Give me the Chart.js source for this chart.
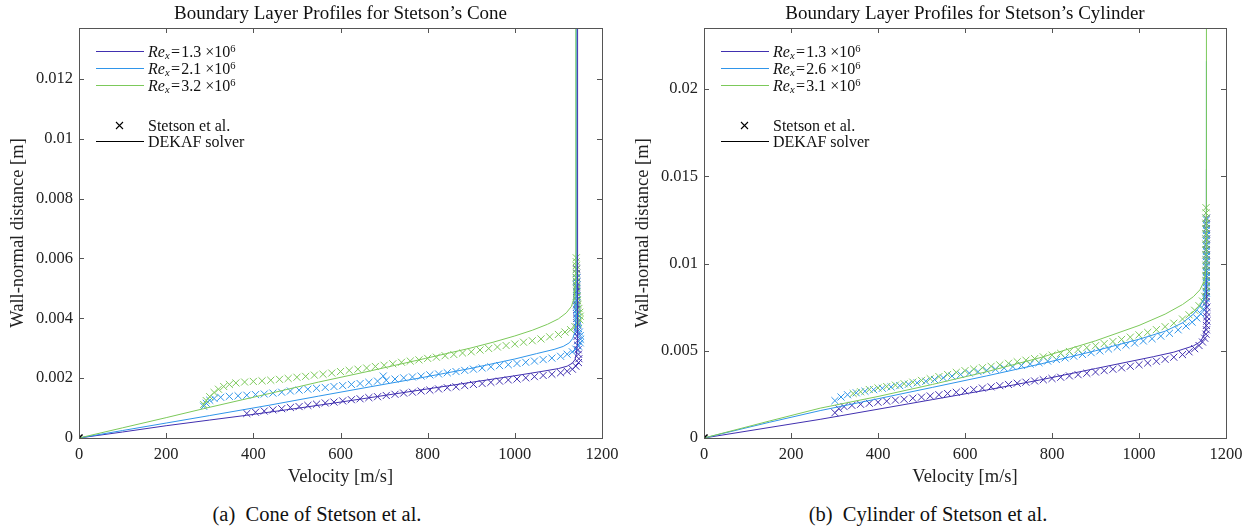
<!DOCTYPE html>
<html>
<head>
<meta charset="utf-8">
<title>Boundary Layer Profiles for Stetson's Cone and Cylinder</title>
<script src="https://cdn.jsdelivr.net/npm/chart.js@4.4.1/dist/chart.umd.min.js"></script>
<style>
  body { margin: 0; background: #fff; font-family: "Liberation Serif", serif; color: #111; }
  #page { position: relative; width: 1251px; height: 529px; overflow: hidden; }
  .panel { position: absolute; top: 0; height: 490px; }
  .panel canvas { position: absolute; left: 0; top: 0; }
  .title { position: absolute; top: 2px; line-height: 22px; font-size: 19px; white-space: nowrap; transform: translateX(-50%); }
  .leg { position: absolute; height: 17px; line-height: 17px; font-size: 16px; white-space: nowrap; }
  .leg .ln { position: absolute; left: 0; top: 8px; width: 48px; height: 0; border-top: 1px solid #000; }
  .leg .mk { position: absolute; left: 19px; top: 4px; }
  .leg .tx { position: absolute; left: 52px; top: 0; }
  .leg sub { font-size: 0.66em; vertical-align: -0.22em; line-height: 0; }
  .leg sup { font-size: 0.66em; vertical-align: 0.5em; line-height: 0; }
  .caption { position: absolute; top: 502px; line-height: 24px; font-size: 20.5px; white-space: nowrap; transform: translateX(-50%); }
</style>
</head>
<body>
<div id="page">
  <div class="panel" id="panelA" style="left:0;width:625px"><canvas id="coneChart" width="625" height="490"></canvas></div>
  <div class="panel" id="panelB" style="left:625px;width:626px"><canvas id="cylChart" width="626" height="490"></canvas></div>
  <div class="caption" style="left:317px">(a)&nbsp; Cone of Stetson et al.</div>
  <div class="caption" style="left:928px">(b)&nbsp; Cylinder of Stetson et al.</div>
</div>
<script>
// axis ticks
var xTicks = [0, 200, 400, 600, 800, 1000, 1200];
var coneYTicks = [0, 0.002, 0.004, 0.006, 0.008, 0.01, 0.012];
var cylYTicks = [0, 0.005, 0.01, 0.015, 0.02];

var coneRe = ['1.3', '2.1', '3.2'];
var cylRe = ['1.3', '2.6', '3.1'];
var colors = ['#4130b0', '#2f95ea', '#7cc95a'];

// Stetson et al. measurements, cone  [u (m/s), y (m)]
var coneExp1 = [[385,0.00082],[405,0.00086],[425,0.0009],[445,0.00094],[465,0.00098],[485,0.00102],[505,0.00105],[525,0.00109],
  [545,0.00113],[565,0.00117],[585,0.0012],[605,0.00124],[625,0.00128],[645,0.00131],[665,0.00135],[685,0.00138],[705,0.00142],
  [725,0.00146],[745,0.0015],[765,0.00153],[785,0.00157],[805,0.0016],[825,0.00164],[845,0.00168],[865,0.00171],[885,0.00175],
  [905,0.00179],[925,0.00182],[945,0.00186],[965,0.0019],[985,0.00194],[1005,0.00197],[1025,0.00201],[1045,0.00205],[1065,0.00209],
  [1085,0.00213],[1105,0.00218],[1120,0.00223],[1132,0.0023],[1140,0.0024],[1146,0.00252],[1147,0.00265],[1146,0.0028],[1145,0.00295],
  [1144,0.0031],[1144,0.00325],[1143,0.0034],[1143,0.00355],[1143,0.0037],[1142,0.00385],[1142,0.004],[1142,0.00415],[1142,0.0043],
  [1142,0.00445],[1142,0.0046],[1142,0.00475],[1142,0.0049],[1142,0.00505],[1142,0.0052],[1142,0.00535],[1142,0.0055],[1142,0.00565]];
var coneExp2 = [[286,0.00106],[292,0.00116],[300,0.00126],[310,0.00132],[325,0.00136],[345,0.00139],[365,0.00141],[385,0.00143],
  [405,0.00145],[425,0.00147],[445,0.0015],[465,0.00153],[485,0.00157],[505,0.0016],[525,0.00163],[545,0.00166],[565,0.00169],
  [585,0.00172],[605,0.00175],[625,0.00179],[645,0.00182],[665,0.00186],[685,0.0019],[698,0.00207],[705,0.00193],[725,0.00197],
  [745,0.00201],[765,0.00204],[785,0.00207],[805,0.00211],[825,0.00214],[845,0.00218],[865,0.00222],[885,0.00226],[905,0.0023],
  [925,0.00234],[945,0.00238],[965,0.00242],[985,0.00245],[1005,0.00249],[1025,0.00253],[1045,0.00257],[1065,0.00262],[1085,0.00267],
  [1105,0.00273],[1120,0.0028],[1132,0.00288],[1140,0.00297],[1146,0.00307],[1150,0.00318],[1151,0.0033],[1150,0.00342],[1148,0.00354],
  [1146,0.00366],[1145,0.00378],[1144,0.0039],[1143,0.00402],[1143,0.00414],[1142,0.00426],[1142,0.00438],[1142,0.0045],[1142,0.00462],
  [1142,0.00474],[1142,0.00486],[1142,0.00498],[1142,0.0051],[1142,0.00522],[1142,0.00534]];
var coneExp3 = [[286,0.00112],[292,0.00125],[300,0.00138],[310,0.00152],[320,0.00163],[332,0.00172],[345,0.00179],[360,0.00184],
  [380,0.00187],[400,0.00189],[420,0.00191],[440,0.00193],[460,0.00196],[480,0.00199],[500,0.00203],[520,0.00206],[540,0.0021],
  [560,0.00213],[580,0.00217],[600,0.00222],[620,0.00226],[640,0.0023],[660,0.00234],[680,0.00239],[700,0.00243],[720,0.00248],
  [740,0.00253],[760,0.00257],[780,0.00261],[800,0.00266],[820,0.0027],[840,0.00275],[860,0.00279],[880,0.00284],[900,0.00288],
  [920,0.00294],[940,0.00299],[960,0.00304],[980,0.00309],[1000,0.00314],[1020,0.0032],[1040,0.00325],[1060,0.00331],[1080,0.00338],
  [1100,0.00346],[1115,0.00354],[1128,0.00362],[1138,0.00372],[1145,0.00383],[1149,0.00395],[1150,0.00407],[1149,0.0042],[1147,0.00433],
  [1145,0.00446],[1144,0.00459],[1143,0.00472],[1142,0.00485],[1142,0.00498],[1142,0.00511],[1141,0.00524],[1141,0.00537],[1141,0.0055],
  [1141,0.00563],[1141,0.00576],[1141,0.00589],[1141,0.00602]];

// DEKAF solver, cone
var coneDekaf1 = [[0,0],[100,0.0002],[200,0.00041],[300,0.0006],[385,0.00076],[500,0.00099],[600,0.0012],[700,0.00142],[800,0.00164],
  [900,0.00186],[1000,0.00208],[1060,0.00222],[1100,0.00232],[1120,0.0024],[1132,0.0025],[1138,0.00262],[1141,0.00278],[1143,0.0031],
  [1144,0.0036],[1144,0.0137]];
var coneDekaf2 = [[0,0],[100,0.00025],[200,0.0005],[300,0.00075],[438,0.0011],[550,0.0014],[668,0.00171],[780,0.002],[897,0.00232],
  [1000,0.00264],[1050,0.00282],[1090,0.00296],[1111,0.00306],[1125,0.00318],[1133,0.00333],[1138,0.00355],[1140,0.0039],[1141,0.0045],
  [1141,0.0137]];
var coneDekaf3 = [[0,0],[100,0.00034],[200,0.00068],[286,0.00098],[438,0.00149],[550,0.00187],[668,0.00224],[795,0.00266],[897,0.003],
  [950,0.0032],[1000,0.00341],[1040,0.0036],[1075,0.0038],[1100,0.00398],[1118,0.00418],[1130,0.0044],[1136,0.00468],[1139,0.0052],
  [1140,0.006],[1140,0.0137]];

// Stetson et al. measurements, cylinder
var cylExp1 = [[301,0.00145],[310,0.00168],[322,0.0018],[340,0.00187],[360,0.00193],[380,0.00199],[400,0.00205],[420,0.00211],
  [440,0.00217],[460,0.00222],[480,0.00228],[500,0.00234],[520,0.00241],[540,0.00248],[560,0.00255],[580,0.00262],[600,0.0027],
  [620,0.00278],[640,0.00286],[660,0.00293],[680,0.003],[700,0.00307],[720,0.00314],[740,0.0032],[760,0.00327],[780,0.00334],
  [800,0.00341],[820,0.00348],[840,0.00356],[860,0.00363],[880,0.00371],[900,0.00378],[920,0.00386],[940,0.00394],[960,0.00402],
  [980,0.00411],[1000,0.0042],[1020,0.0043],[1040,0.0044],[1060,0.00451],[1080,0.00463],[1100,0.00478],[1115,0.00494],[1128,0.00512],
  [1138,0.0053],[1146,0.0055],[1151,0.00572],[1154,0.00595],[1155,0.0062],[1155,0.00645],[1156,0.0067],[1156,0.00695],[1156,0.0072],
  [1156,0.0075],[1155,0.0078],[1155,0.0081],[1155,0.0084],[1155,0.0087],[1155,0.009],[1155,0.0093],[1155,0.0096],[1155,0.0099],
  [1155,0.0102],[1155,0.0105],[1155,0.0108],[1155,0.0111],[1155,0.0114],[1155,0.0117],[1155,0.012],[1155,0.0123],[1155,0.0126]];
var cylExp2 = [[301,0.00214],[315,0.00235],[330,0.00248],[350,0.00259],[370,0.00268],[390,0.00277],[410,0.00285],[430,0.00293],
  [450,0.003],[470,0.00308],[490,0.00316],[510,0.00325],[530,0.00335],[550,0.00345],[570,0.00355],[590,0.00364],[610,0.00372],
  [630,0.0038],[650,0.00387],[670,0.00394],[690,0.00401],[710,0.00409],[730,0.00416],[750,0.00424],[770,0.00432],[790,0.00441],
  [810,0.0045],[830,0.00459],[850,0.00469],[870,0.00479],[890,0.00489],[910,0.00499],[930,0.0051],[950,0.00521],[970,0.00532],
  [990,0.00544],[1010,0.00556],[1030,0.00569],[1050,0.00584],[1070,0.006],[1090,0.0062],[1108,0.00642],[1122,0.00664],[1133,0.00688],
  [1142,0.00712],[1148,0.0074],[1152,0.0077],[1154,0.008],[1155,0.0083],[1155,0.0086],[1155,0.0089],[1155,0.0092],[1155,0.0095],
  [1155,0.0098],[1155,0.0101],[1155,0.0104],[1155,0.0107],[1155,0.011],[1155,0.0113],[1155,0.0116],[1155,0.0119],[1155,0.0122],
  [1155,0.0125]];
var cylExp3 = [[343,0.00255],[360,0.00265],[380,0.00278],[400,0.00287],[420,0.00295],[440,0.00303],[460,0.00311],[480,0.0032],
  [500,0.0033],[520,0.0034],[540,0.00352],[560,0.00364],[580,0.00376],[600,0.00386],[620,0.00395],[640,0.00403],[660,0.00411],
  [680,0.00419],[700,0.00428],[720,0.00437],[740,0.00446],[760,0.00455],[780,0.00465],[800,0.00475],[820,0.00485],[840,0.00496],
  [860,0.00507],[880,0.00518],[900,0.00529],[920,0.00541],[940,0.00553],[960,0.00565],[980,0.00578],[1000,0.00591],[1020,0.00605],
  [1040,0.00621],[1060,0.00638],[1080,0.00658],[1100,0.00682],[1115,0.00706],[1128,0.00732],[1138,0.00758],[1146,0.00785],
  [1151,0.00812],[1154,0.0084],[1155,0.0087],[1154,0.009],[1154,0.0093],[1154,0.0096],[1154,0.0099],[1154,0.0102],[1154,0.0105],
  [1154,0.0108],[1154,0.0111],[1154,0.0114],[1154,0.0117],[1154,0.012],[1154,0.0123],[1154,0.0126],[1154,0.0129],[1154,0.0132]];

// DEKAF solver, cylinder
var cylDekaf1 = [[0,0],[267,0.00107],[400,0.00165],[525,0.0022],[650,0.00275],[775,0.00334],[900,0.00398],[1033,0.00466],
  [1080,0.00492],[1125,0.00528],[1140,0.0055],[1148,0.00581],[1152,0.0062],[1154,0.007],[1155,0.0085],[1155,0.0154]];
var cylDekaf2 = [[0,0],[150,0.0009],[267,0.00157],[400,0.00225],[525,0.0029],[650,0.00356],[775,0.00425],[900,0.005],[1000,0.00566],
  [1060,0.00612],[1100,0.0066],[1125,0.0071],[1140,0.00755],[1148,0.0079],[1153,0.0084],[1155,0.0095],[1155,0.0216]];
var cylDekaf3 = [[0,0],[150,0.00097],[267,0.00171],[400,0.00238],[525,0.00307],[650,0.0038],[775,0.00462],[900,0.00557],[1000,0.00645],
  [1060,0.0071],[1100,0.00765],[1125,0.0081],[1140,0.00849],[1150,0.009],[1154,0.0097],[1155,0.011],[1155,0.0235]];

var wallPoint = [[0, 0]];

var fontFamily = '"Liberation Serif", serif';
Chart.defaults.font.family = fontFamily;

function pts(arr) {
  return arr.map(function (p) { return { x: p[0], y: p[1] }; });
}

// box round the axes with inward tick marks, like MATLAB
var boxTicks = {
  id: 'boxTicks',
  afterDatasetsDraw: function (chart) {
    var ctx = chart.ctx, a = chart.chartArea;
    var xs = chart.scales.x, ys = chart.scales.y;
    ctx.save();
    ctx.strokeStyle = '#555';
    ctx.lineWidth = 1;
    ctx.beginPath();
    xs.ticks.forEach(function (t) {
      var px = Math.round(xs.getPixelForValue(t.value)) + 0.5;
      ctx.moveTo(px, a.bottom); ctx.lineTo(px, a.bottom - 5);
      ctx.moveTo(px, a.top); ctx.lineTo(px, a.top + 5);
    });
    ys.ticks.forEach(function (t) {
      var py = Math.round(ys.getPixelForValue(t.value)) + 0.5;
      ctx.moveTo(a.left, py); ctx.lineTo(a.left + 5, py);
      ctx.moveTo(a.right, py); ctx.lineTo(a.right - 5, py);
    });
    ctx.stroke();
    ctx.strokeRect(Math.round(a.left) + 0.5, Math.round(a.top) + 0.5,
      Math.round(a.right - a.left), Math.round(a.bottom - a.top));
    ctx.restore();
  }
};

function buildChart(canvasId, exps, dekafs, yMax, yTicks, rightPad) {
  var datasets = [];
  dekafs.forEach(function (d, i) {
    datasets.push({
      data: pts(d), showLine: true, borderColor: colors[i], borderWidth: 1,
      pointRadius: 0, fill: false, order: 3 - i
    });
  });
  exps.forEach(function (d, i) {
    datasets.push({
      data: pts(d), showLine: false, pointStyle: 'crossRot', pointRadius: 5,
      borderColor: colors[i], backgroundColor: colors[i], pointBorderWidth: 1, order: 6 - i
    });
  });
  datasets.push({
    data: pts(wallPoint), showLine: false, pointStyle: 'crossRot', pointRadius: 5,
    borderColor: '#000', pointBorderWidth: 1.5, order: 0
  });

  return new Chart(document.getElementById(canvasId), {
    type: 'scatter',
    data: { datasets: datasets },
    options: {
      responsive: false,
      animation: false,
      layout: { padding: { top: 28, right: rightPad, left: 0, bottom: 0 } },
      plugins: { legend: { display: false }, tooltip: { enabled: false }, title: { display: false } },
      scales: {
        x: {
          type: 'linear', min: 0, max: 1200,
          grid: { display: false, drawTicks: false }, border: { display: false },
          afterBuildTicks: function (s) { s.ticks = xTicks.map(function (v) { return { value: v }; }); },
          afterFit: function (s) { s.height = 52; s.paddingLeft = 0; s.paddingRight = 0; },
          ticks: { color: '#222', padding: 7, maxRotation: 0, font: { family: fontFamily, size: 16.5 },
            callback: function (v) { return String(v); } },
          title: { display: true, text: 'Velocity [m/s]', color: '#222', padding: { top: 0, bottom: 2 },
            font: { family: fontFamily, size: 18.5 } }
        },
        y: {
          type: 'linear', min: 0, max: yMax,
          grid: { display: false, drawTicks: false }, border: { display: false },
          afterBuildTicks: function (s) { s.ticks = yTicks.map(function (v) { return { value: v }; }); },
          afterFit: function (s) { s.width = 79; s.paddingTop = 0; s.paddingBottom = 0; },
          ticks: { color: '#222', padding: 6, font: { family: fontFamily, size: 16.5 },
            callback: function (v) { return String(v); } },
          title: { display: true, text: 'Wall-normal distance [m]', color: '#222', padding: { top: 7, bottom: 0 },
            font: { family: fontFamily, size: 18.5 } }
        }
      }
    },
    plugins: [boxTicks]
  });
}

function addOverlay(panelId, chart, titleText, reLabels) {
  var panel = document.getElementById(panelId);
  var a = chart.chartArea;
  var t = document.createElement('div');
  t.className = 'title';
  t.style.left = ((a.left + a.right) / 2) + 'px';
  t.textContent = titleText;
  panel.appendChild(t);

  var x0 = a.left + 17;
  var rows = [42.5, 59.5, 76.5];
  reLabels.forEach(function (re, i) {
    var r = document.createElement('div');
    r.className = 'leg';
    r.style.left = x0 + 'px';
    r.style.top = rows[i] + 'px';
    r.innerHTML = '<span class="ln" style="border-color:' + colors[i] + '"></span>' +
      '<span class="tx"><i>Re</i><sub><i>x</i></sub>&#8202;=&#8202;' + re + ' ×10<sup>6</sup></span>';
    panel.appendChild(r);
  });
  var m = document.createElement('div');
  m.className = 'leg';
  m.style.left = x0 + 'px';
  m.style.top = '116.5px';
  m.innerHTML = '<svg class="mk" width="9" height="9"><path d="M1 1L8 8M8 1L1 8" stroke="#000" stroke-width="1.1"/></svg>' +
    '<span class="tx">Stetson et al.</span>';
  panel.appendChild(m);
  var s = document.createElement('div');
  s.className = 'leg';
  s.style.left = x0 + 'px';
  s.style.top = '132.5px';
  s.innerHTML = '<span class="ln"></span><span class="tx">DEKAF solver</span>';
  panel.appendChild(s);
}

var coneChart = buildChart('coneChart', [coneExp1, coneExp2, coneExp3], [coneDekaf1, coneDekaf2, coneDekaf3], 0.0137, coneYTicks, 23);
var cylChart = buildChart('cylChart', [cylExp1, cylExp2, cylExp3], [cylDekaf1, cylDekaf2, cylDekaf3], 0.0235, cylYTicks, 25);
addOverlay('panelA', coneChart, 'Boundary Layer Profiles for Stetson’s Cone', coneRe);
addOverlay('panelB', cylChart, 'Boundary Layer Profiles for Stetson’s Cylinder', cylRe);
</script>
</body>
</html>
